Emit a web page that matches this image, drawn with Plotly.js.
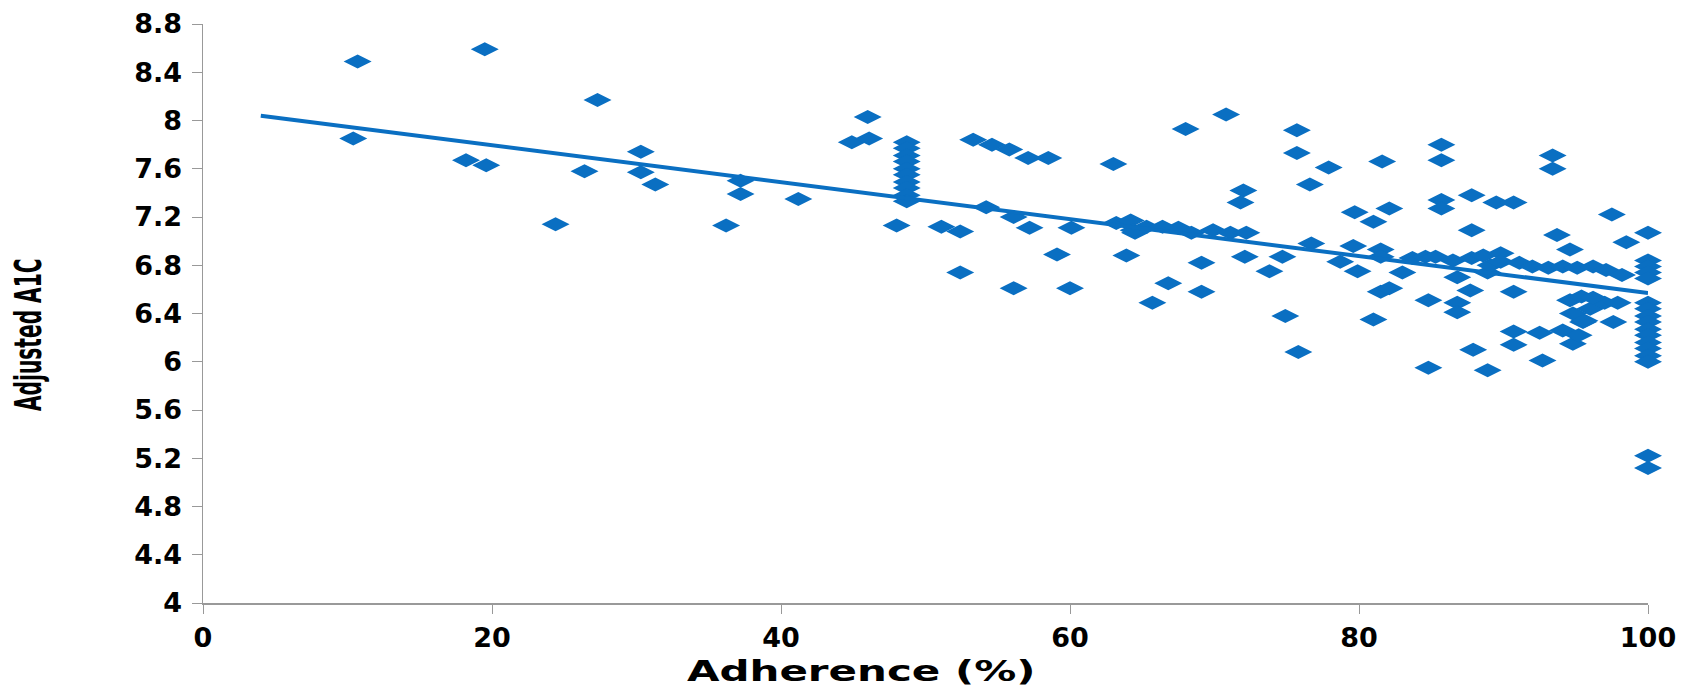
<!DOCTYPE html>
<html>
<head>
<meta charset="utf-8">
<script src="https://cdn.plot.ly/plotly-3.0.1.min.js"></script>
<style>html,body{margin:0;padding:0;background:#fff;}#chart{width:1698px;height:688px;}</style>
</head>
<body>
<div id="chart"></div>
<script>
// Adherence (%) values
var adherence = [
  10.7,10.4,19.5,18.2,19.6,24.4,27.3,26.4,30.3,30.3,31.3,37.2,37.2,36.2,41.2,46.0,44.9,46.1,48.0,
  48.7,48.7,48.7,48.7,48.7,48.7,48.7,48.7,48.7,48.7,
  51.1,52.4,52.4,53.3,54.6,55.8,57.1,58.5,54.2,56.1,57.2,56.1,59.1,60.1,60.0,
  63.0,63.2,64.2,64.5,64.4,65.3,66.4,67.5,68.4,69.9,71.1,72.2,63.9,69.1,66.8,65.7,69.1,68.0,70.8,72.0,71.8,72.1,73.8,74.7,74.9,75.7,75.7,75.8,
  77.9,76.6,76.7,78.7,79.7,79.6,79.9,81.0,81.6,82.1,81.5,81.5,81.5,82.1,81.0,83.0,83.7,84.6,85.3,84.8,84.8,85.7,85.7,85.7,85.7,
  86.5,86.8,86.8,86.8,87.7,87.8,87.8,87.8,87.9,88.6,88.9,88.9,89.1,89.5,89.8,89.8,90.7,90.7,90.7,90.7,91.1,92.0,92.5,92.7,93.1,
  93.4,93.4,93.7,94.1,94.1,94.6,94.6,94.8,95.1,95.2,95.4,95.5,96.0,96.2,97.0,97.1,97.5,97.6,97.9,98.2,98.5,94.8,95.6,96.2,
  100,100,100,100,100,100,100,100,100,100,100,100,100,100,100,100,100
];
// Adjusted A1C values
var a1c = [
  8.49,7.85,8.59,7.67,7.63,7.14,8.17,7.58,7.74,7.57,7.47,7.50,7.39,7.13,7.35,8.03,7.82,7.85,7.13,
  7.82,7.77,7.71,7.66,7.60,7.55,7.49,7.44,7.38,7.33,
  7.12,7.08,6.74,7.84,7.80,7.76,7.69,7.69,7.28,7.20,7.11,6.61,6.89,7.11,6.61,
  7.64,7.15,7.17,7.07,7.09,7.12,7.12,7.11,7.07,7.09,7.07,7.07,6.88,6.82,6.65,6.49,6.58,7.93,8.05,7.42,7.32,6.87,6.75,6.87,6.38,7.92,7.73,6.08,
  7.61,7.47,6.98,6.83,7.24,6.96,6.75,7.16,7.66,7.27,6.93,6.87,6.58,6.61,6.35,6.74,6.86,6.87,6.87,6.51,5.95,7.80,7.67,7.34,7.27,
  6.84,6.70,6.49,6.41,6.59,7.38,7.09,6.86,6.10,6.88,6.74,5.93,6.80,7.32,6.90,6.83,7.32,6.58,6.25,6.14,6.82,6.79,6.24,6.01,6.78,
  7.71,7.60,7.05,6.79,6.26,6.93,6.51,6.15,6.78,6.22,6.54,6.33,6.44,6.79,6.49,6.76,7.22,6.33,6.49,6.72,6.99,6.40,6.34,6.53,
  7.07,6.84,6.79,6.74,6.69,6.49,6.44,6.38,6.33,6.27,6.22,6.16,6.11,6.05,6.00,5.22,5.12
];
// Linear trend line
var trendX = [4, 100];
var trendY = [8.04, 6.57];
var yTicks = [4, 4.4, 4.8, 5.2, 5.6, 6, 6.4, 6.8, 7.2, 7.6, 8, 8.4, 8.8];
var yTickText = ['4','4.4','4.8','5.2','5.6','6','6.4','6.8','7.2','7.6','8','8.4','8.8'];
var xTicks = [0, 20, 40, 60, 80, 100];
var xTitle = 'Adherence (%)';
var yTitle = 'Adjusted A1C';

var blue = '#0a6fc2';
var tickFont = {family: 'DejaVu Sans, Liberation Sans, Arial', size: 27, color: '#000', weight: 'bold'};

var data = [
  {x: adherence, y: a1c, type: 'scatter', mode: 'markers', cliponaxis: false,
   marker: {symbol: 'diamond-wide', size: 20, color: blue, line: {width: 0}}},
  {x: trendX, y: trendY, type: 'scatter', mode: 'lines', cliponaxis: false,
   line: {color: blue, width: 4}}
];

var layout = {
  width: 1698, height: 688,
  margin: {l: 203, r: 50, t: 24, b: 85},
  paper_bgcolor: '#fff', plot_bgcolor: '#fff',
  showlegend: false,
  xaxis: {range: [0, 100], tickvals: xTicks, ticktext: xTicks.map(String),
          showgrid: false, zeroline: false, showline: true, linecolor: '#999', linewidth: 1.5,
          ticks: 'outside', ticklen: 9, tickcolor: '#999', tickfont: tickFont, ticklabelstandoff: 1},
  yaxis: {range: [4, 8.8], tickvals: yTicks, ticktext: yTickText,
          showgrid: false, zeroline: false, showline: true, linecolor: '#999', linewidth: 1.5,
          ticks: 'outside', ticklen: 10, tickcolor: '#999', tickfont: tickFont, ticklabelstandoff: 4},
  annotations: [
    {text: '<b>' + xTitle + '</b>', xref: 'paper', yref: 'paper', x: (861-203)/1445, y: -0.118,
     xanchor: 'center', yanchor: 'middle', showarrow: false,
     font: {family: 'DejaVu Sans, Liberation Sans, Arial', size: 28, color: '#000'}},
    {text: '<b>' + yTitle + '</b>', xref: 'paper', yref: 'paper', x: (28-203)/1445, y: (603-335)/579,
     xanchor: 'center', yanchor: 'middle', textangle: -90, showarrow: false,
     font: {family: 'Liberation Sans Narrow, DejaVu Sans Condensed, Arial', size: 38, color: '#000'}}
  ]
};

Plotly.newPlot('chart', data, layout, {displayModeBar: false, staticPlot: true}).then(function () {
  // the reference's titles are drawn stretched/condensed along their reading direction
  document.querySelectorAll('.annotation-text').forEach(function (t) {
    var s = null;
    if (t.textContent === xTitle) s = 1.5;
    if (t.textContent === yTitle) s = 0.59;
    if (s) {
      t.style.transformBox = 'fill-box';
      t.style.transformOrigin = 'center';
      t.style.transform = 'scaleX(' + s + ')';
    }
  });
});
</script>
</body>
</html>
